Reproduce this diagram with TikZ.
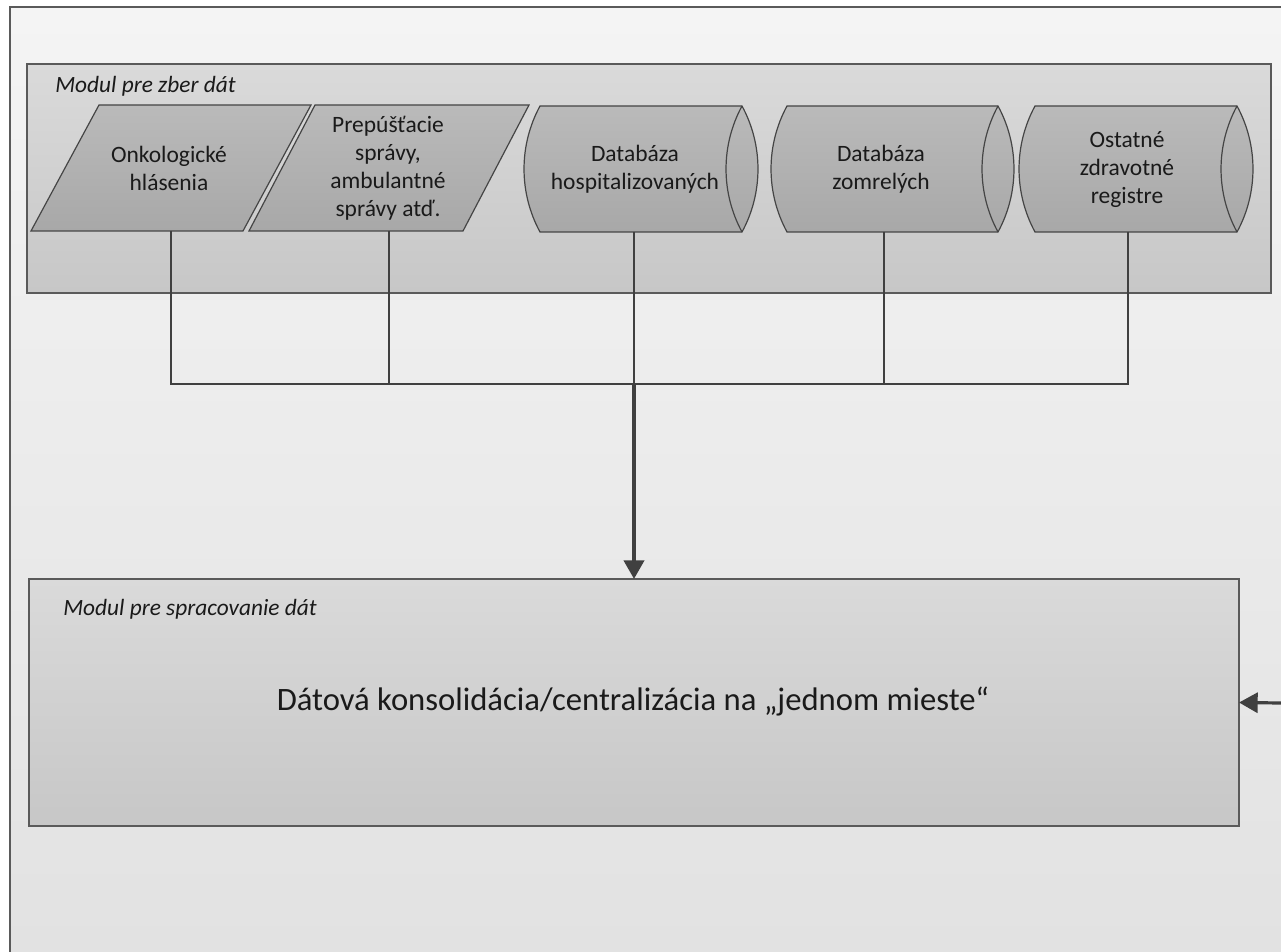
\documentclass[tikz,border=0pt]{standalone}
\usepackage{fontspec}
\setmainfont{Carlito}
\usetikzlibrary{arrows.meta}
\definecolor{bgtop}{HTML}{F4F4F4}
\definecolor{bgbot}{HTML}{E2E2E2}
\definecolor{frameline}{HTML}{5A5A5A}
\definecolor{boxtop}{HTML}{DADADA}
\definecolor{boxbot}{HTML}{C7C7C7}
\definecolor{shtop}{HTML}{BABABA}
\definecolor{shbot}{HTML}{A8A8A8}
\definecolor{linec}{HTML}{454545}
\definecolor{connc}{HTML}{404040}
\definecolor{txt}{HTML}{1A1A1A}
\newcommand{\mycyl}[2]{%
  \shadedraw[shapestyle] (#1,106) -- (#2,106)
    .. controls ({#2+21.3},145.2) and ({#2+21.3},192.8) .. (#2,232)
    -- (#1,232)
    .. controls ({#1-21.3},192.8) and ({#1-21.3},145.2) .. (#1,106) -- cycle;
  \draw[shapeline] (#2,106)
    .. controls ({#2-21.3},145.2) and ({#2-21.3},192.8) .. (#2,232);
}
\begin{document}
\begin{tikzpicture}[x=0.75pt,y=-0.75pt,
  shapestyle/.style={draw=linec, line width=0.9pt, top color=shtop, bottom color=shbot},
  shapeline/.style={draw=linec, line width=0.9pt},
  modbox/.style={draw=frameline, line width=1.2pt, top color=boxtop, bottom color=boxbot,
    rectangle, inner sep=0pt, outer sep=0pt, anchor=north west},
  shapetext/.style={align=center, text=txt, font=\fontsize{17.6}{21}\selectfont, inner sep=0pt},
  modlabel/.style={anchor=base west, text=txt, inner sep=0pt, font=\fontsize{17.5}{21}\selectfont\itshape},
  conn/.style={draw=connc, line width=2pt},
  arr/.style={draw=connc, line width=3pt, -{Triangle[width=15pt,length=14pt]}}
]
\useasboundingbox (0,0) rectangle (1281,952);
\fill[white] (0,0) rectangle (1281,952);
\shade[top color=bgtop, bottom color=bgbot] (10,7) rectangle (1281,952);
\draw[frameline, line width=1.5pt] (10,952) -- (10,7) -- (1281,7);

% upper module
\node[modbox, minimum width=933pt, minimum height=171.75pt] (zber) at (27,64) {};
\node[modlabel] (zberlabel) at (55,93) {Modul pre zber dát};

% parallelograms
\shadedraw[shapestyle] (99,105) -- (311,105) -- (243,231) -- (31,231) -- cycle;
\node[shapetext] (onko) at (169,168) {Onkologické\\hlásenia};
\shadedraw[shapestyle] (315,105) -- (529,105) -- (463,231) -- (249,231) -- cycle;
\node[shapetext] (prep) at (388,168) {Prepúšťacie\\správy,\\ambulantné\\správy atď.};

% cylinders
\mycyl{540}{742}
\node[shapetext] (hosp) at (635,169) {Databáza\\hospitalizovaných};
\mycyl{787}{998}
\node[shapetext] (zomr) at (881,169) {Databáza\\zomrelých};
\mycyl{1035}{1237}
\node[shapetext] (ost) at (1127,170) {Ostatné\\zdravotné\\registre};

% connector anchor points
\coordinate (onkob) at (171,231);
\coordinate (prepb) at (389,231);
\coordinate (hospb) at (634,232);
\coordinate (zomrb) at (884,232);
\coordinate (ostb) at (1128,232);
\coordinate (j1) at (171,384);
\coordinate (j2) at (389,384);
\coordinate (hub) at (634,384);
\coordinate (j4) at (884,384);
\coordinate (j5) at (1128,384);

% lower module
\node[modbox, minimum width=907.5pt, minimum height=185.25pt] (proc) at (29,579) {};
\node[modlabel] (proclabel) at (63,615) {Modul pre spracovanie dát};
\node[anchor=base, text=txt, inner sep=0pt, font=\fontsize{24.5}{29}\selectfont] (proctext) at (633,710)
  {Dátová konsolidácia/centralizácia na „jednom mieste“};
\coordinate (ext) at (1281,703);

% connectors
\draw[conn] (onkob) -- (j1);
\draw[conn] (prepb) -- (j2);
\draw[conn] (hospb) -- (hub);
\draw[conn] (zomrb) -- (j4);
\draw[conn] (ostb) -- (j5);
\draw[conn, line cap=rect] (j1) -- (j5);
\draw[arr] (hub) -- (proc.north);
\draw[arr, line width=2.4pt] (ext) -- (proc.east);
\end{tikzpicture}
\end{document}
